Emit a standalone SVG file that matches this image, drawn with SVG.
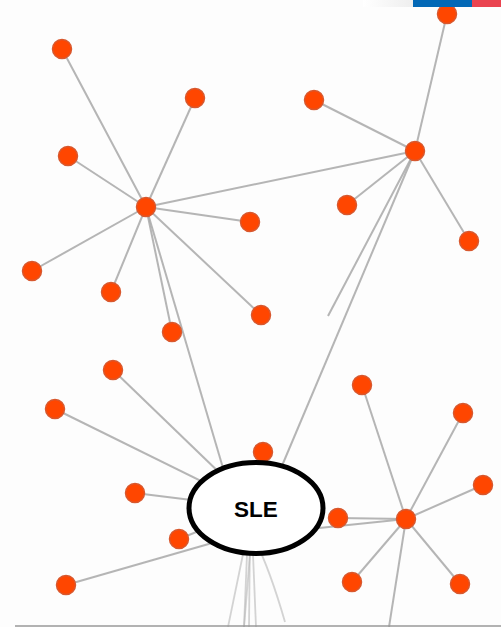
<svg xmlns="http://www.w3.org/2000/svg" width="501" height="627" viewBox="0 0 501 627">
<style>
.e{stroke:#a8a8a8;stroke-width:2;stroke-opacity:0.85;fill:none}
.f{stroke:#b8b8b8;stroke-width:1.8;stroke-opacity:0.6;fill:none}
.n{fill:#ff4600;stroke:#d8582e;stroke-width:1.5}
.t{font-family:"Liberation Sans",Arial,sans-serif;font-weight:bold;font-size:22.5px;fill:#000}
</style>
<defs>
<linearGradient id="g" x1="0" x2="1" y1="0" y2="0">
<stop offset="0" stop-color="#ffffff"/>
<stop offset="1" stop-color="#eeeeee"/>
</linearGradient>
</defs>
<rect width="501" height="627" fill="#fdfdfd"/>
<g id="connectors">
<line class="e" x1="146" y1="207" x2="62" y2="49"/>
<line class="e" x1="146" y1="207" x2="195" y2="98"/>
<line class="e" x1="146" y1="207" x2="68" y2="156"/>
<line class="e" x1="146" y1="207" x2="250" y2="222"/>
<line class="e" x1="146" y1="207" x2="32" y2="271"/>
<line class="e" x1="146" y1="207" x2="111" y2="292"/>
<line class="e" x1="146" y1="207" x2="172" y2="332"/>
<line class="e" x1="146" y1="207" x2="261" y2="315"/>
<line class="e" x1="146" y1="207" x2="415" y2="151"/>
<line class="e" x1="146" y1="207" x2="228" y2="485"/>
<line class="e" x1="415" y1="151" x2="314" y2="100"/>
<line class="e" x1="415" y1="151" x2="447" y2="14"/>
<line class="e" x1="415" y1="151" x2="347" y2="205"/>
<line class="e" x1="415" y1="151" x2="469" y2="241"/>
<line class="e" x1="415" y1="151" x2="328" y2="316"/>
<line class="e" x1="415" y1="151" x2="276" y2="480"/>
<line class="e" x1="406" y1="519" x2="362" y2="385"/>
<line class="e" x1="406" y1="519" x2="463" y2="413"/>
<line class="e" x1="406" y1="519" x2="483" y2="485"/>
<line class="e" x1="406" y1="519" x2="338" y2="518"/>
<line class="e" x1="406" y1="519" x2="352" y2="582"/>
<line class="e" x1="406" y1="519" x2="460" y2="584"/>
<line class="e" x1="406" y1="519" x2="389" y2="627"/>
<line class="e" x1="406" y1="519" x2="300" y2="530"/>
<line class="e" x1="256" y1="508" x2="113" y2="370"/>
<line class="e" x1="256" y1="508" x2="55" y2="409"/>
<line class="e" x1="256" y1="508" x2="135" y2="493"/>
<line class="e" x1="256" y1="508" x2="179" y2="539"/>
<line class="e" x1="240" y1="535" x2="66" y2="585"/>
<line class="e" x1="263" y1="452" x2="263" y2="480"/>
<line class="f" x1="248" y1="530" x2="228" y2="627"/>
<line class="f" x1="248" y1="530" x2="244" y2="627"/>
<line class="f" x1="250" y1="530" x2="249" y2="627"/>
<line class="f" x1="252" y1="530" x2="256" y2="627"/>
<line class="f" x1="252" y1="530" x2="244" y2="627"/>
<path class="f" d="M255 540 Q270 570 285 622"/>
</g>
<g id="leaves">
<circle class="n" cx="62" cy="49" r="9.5"/>
<circle class="n" cx="195" cy="98" r="9.5"/>
<circle class="n" cx="68" cy="156" r="9.5"/>
<circle class="n" cx="314" cy="100" r="9.5"/>
<circle class="n" cx="447" cy="14" r="9.5"/>
<circle class="n" cx="250" cy="222" r="9.5"/>
<circle class="n" cx="347" cy="205" r="9.5"/>
<circle class="n" cx="469" cy="241" r="9.5"/>
<circle class="n" cx="32" cy="271" r="9.5"/>
<circle class="n" cx="111" cy="292" r="9.5"/>
<circle class="n" cx="172" cy="332" r="9.5"/>
<circle class="n" cx="261" cy="315" r="9.5"/>
<circle class="n" cx="113" cy="370" r="9.5"/>
<circle class="n" cx="55" cy="409" r="9.5"/>
<circle class="n" cx="263" cy="452" r="9.5"/>
<circle class="n" cx="362" cy="385" r="9.5"/>
<circle class="n" cx="463" cy="413" r="9.5"/>
<circle class="n" cx="483" cy="485" r="9.5"/>
<circle class="n" cx="135" cy="493" r="9.5"/>
<circle class="n" cx="338" cy="518" r="9.5"/>
<circle class="n" cx="179" cy="539" r="9.5"/>
<circle class="n" cx="66" cy="585" r="9.5"/>
<circle class="n" cx="352" cy="582" r="9.5"/>
<circle class="n" cx="460" cy="584" r="9.5"/>
</g>
<g id="hub1"><circle class="n" cx="146" cy="207" r="9.5"/></g>
<g id="hub2"><circle class="n" cx="415" cy="151" r="9.5"/></g>
<g id="hub3"><circle class="n" cx="406" cy="519" r="9.5"/></g>
<g id="sle">
<ellipse cx="256" cy="508" rx="67" ry="45.5" fill="#ffffff" stroke="#000" stroke-width="5"/>
<text class="t" x="256" y="516.5" text-anchor="middle">SLE</text>
</g>
<g id="chrome">
<rect x="363" y="0" width="50" height="7" fill="url(#g)"/>
<rect x="413" y="0" width="59" height="7" fill="#0368b6"/>
<rect x="472" y="0" width="29" height="7" fill="#ea4450"/>
<line x1="15" y1="626" x2="501" y2="626" stroke="#999" stroke-width="1.5"/>
</g>
</svg>
